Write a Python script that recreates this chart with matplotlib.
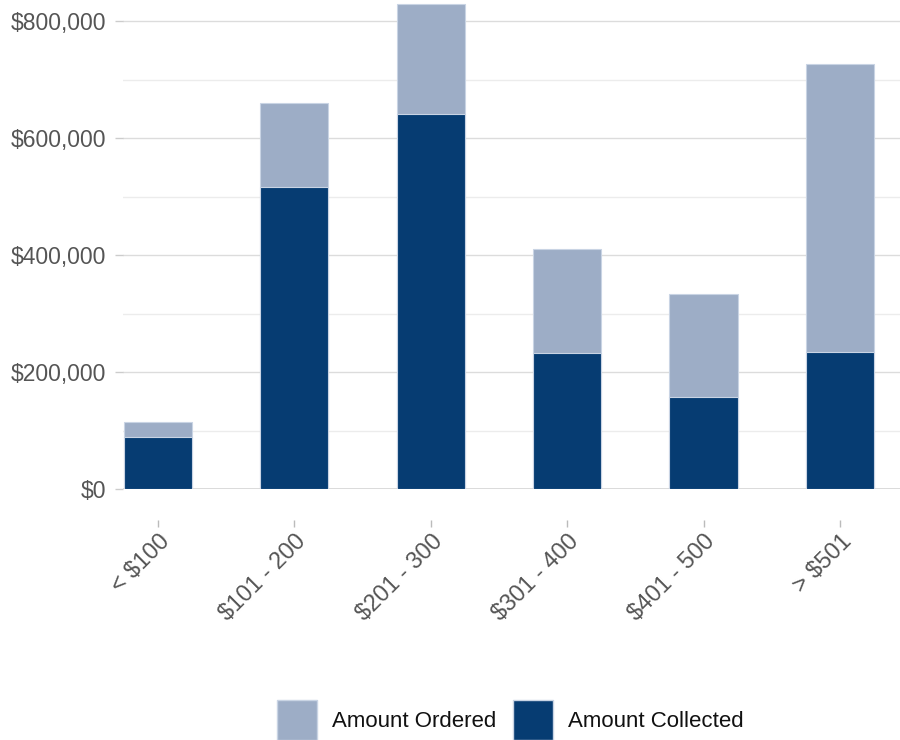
import matplotlib
matplotlib.use("Agg")
import matplotlib.pyplot as plt
from matplotlib.ticker import FuncFormatter, MultipleLocator
from matplotlib.patches import Patch

plt.rcParams['font.family'] = ['Liberation Sans', 'DejaVu Sans']

categories = ["< $100", "$101 - 200", "$201 - 300", "$301 - 400", "$401 - 500", "> $501"]
amount_ordered = [114000, 660000, 829000, 410000, 333000, 726000]
amount_collected = [89000, 516000, 641000, 232000, 157000, 234000]

light = "#9dadc6"
dark = "#063c72"
edge = "#c9d4e4"

fig = plt.figure(figsize=(9, 7.4), dpi=100)
ax = fig.add_axes([123 / 900, (740 - 489) / 740, 1 - 123 / 900, 489 / 740])

x = list(range(len(categories)))
ax.bar(x, amount_ordered, width=0.5, color=light, edgecolor=edge, linewidth=0.8, zorder=2)
ax.bar(x, amount_collected, width=0.5, color=dark, edgecolor=edge, linewidth=0.8, zorder=3)

ax.set_xlim(-0.255, 5.44)
ax.set_ylim(0, 836000)

ax.yaxis.set_major_locator(MultipleLocator(200000))
ax.yaxis.set_minor_locator(MultipleLocator(100000))
ax.yaxis.set_major_formatter(FuncFormatter(lambda v, p: f"${v:,.0f}"))
ax.grid(axis='y', which='major', color='#dcdcdc', linewidth=1.0, zorder=0)
ax.grid(axis='y', which='minor', color='#ececec', linewidth=1.0, zorder=0)
ax.set_axisbelow(True)
ax.axhline(0, color='#d6d6d6', linewidth=1.2, zorder=1)

for s in ['top', 'right', 'left']:
    ax.spines[s].set_visible(False)
# x ticks sit a little below the baseline
ax.spines['bottom'].set_position(('outward', 22))
ax.spines['bottom'].set_visible(False)

ax.tick_params(axis='y', which='major', length=6, width=1, color='#cccccc',
               labelsize=16.5, labelcolor='#555555', pad=6)
ax.tick_params(axis='y', which='minor', length=0)
ax.tick_params(axis='x', length=5, width=1, color='#bbbbbb',
               labelsize=16.8, labelcolor='#555555', pad=2.5)

ax.set_xticks(x)
ax.set_xticklabels(categories, rotation=45, ha='right', rotation_mode='anchor')

handles = [Patch(facecolor=light, edgecolor=edge, label="Amount Ordered"),
           Patch(facecolor=dark, edgecolor=edge, label="Amount Collected")]
leg = fig.legend(handles=handles, loc='center', bbox_to_anchor=(0.567, 0.027), ncol=2,
                 frameon=False, fontsize=16, handlelength=1.8, handleheight=2.4,
                 handletextpad=0.68, columnspacing=0.72)
for t in leg.get_texts():
    t.set_color('#111111')

fig.savefig("out.png", dpi=100)
